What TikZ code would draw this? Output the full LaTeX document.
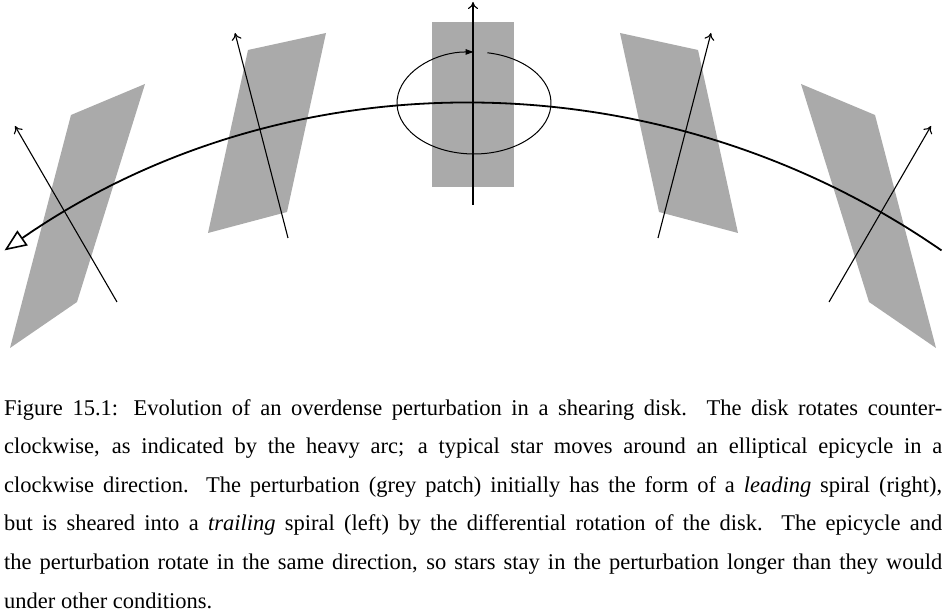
\documentclass[tikz,border=0pt]{standalone}
\usepackage{fontspec}
\setmainfont{Liberation Serif}
\usetikzlibrary{arrows.meta}
\definecolor{patchgrey}{RGB}{170,170,170}
\begin{document}
\begin{tikzpicture}[x=1pt,y=1pt,
    patch/.style={fill=patchgrey},
    axis/.style={line width=1.1pt,-{To[length=7pt,width=10pt]}},
    disk/.style={line width=1.8pt,-{Triangle[open,length=22pt,width=18pt,line width=1.6pt]}},
    epicycle/.style={line width=1pt,-{Latex[length=9pt,width=6pt]}}]
  \useasboundingbox (0,0) rectangle (946,612);
  % grey patches, trailing on the left, leading on the right
  \fill[patch] (10,264) -- (71,497) -- (145,528) -- (77,310) -- cycle;
  \fill[patch] (208,379) -- (248,562) -- (326,579) -- (287,400) -- cycle;
  \fill[patch] (432,425) rectangle (514,590);
  \fill[patch] (659,400) -- (620,579) -- (698,562) -- (738,379) -- cycle;
  \fill[patch] (869,310) -- (801,528) -- (875,497) -- (936,264) -- cycle;
  % epicycle axes through each patch
  \draw[axis] (117,310) -- (15,486);
  \draw[axis] (288,374) -- (235,579);
  \draw[axis] (473,407) -- (473,610);
  \draw[axis] (658,374) -- (711,579);
  \draw[axis] (829,310) -- (931,486);
  % heavy arc: rotation of the disk
  \draw[disk] ([shift={(55.3:823)}]473,-315) arc(55.3:124.7:823);
  % epicycle of a typical star
  \draw[epicycle] ([shift={(80:77 and 51)}]474,509)
    arc[start angle=80,end angle=-270.5,x radius=77,y radius=51];
  \node[anchor=north west,inner sep=0pt,text width=938pt,align=justify,
    font=\fontsize{22.5}{38.6}\selectfont] (caption) at (4,213)
    {Figure 15.1: Evolution of an overdense perturbation in a shearing disk.  The disk rotates counter-\linebreak
     clockwise, as indicated by the heavy arc; a typical star moves around an elliptical epicycle in a\linebreak
     clockwise direction. The perturbation (grey patch) initially has the form of a \emph{leading} spiral (right),\linebreak
     but is sheared into a \emph{trailing} spiral (left) by the differential rotation of the disk.  The epicycle and\linebreak
     the perturbation rotate in the same direction, so stars stay in the perturbation longer than they would\linebreak
     under other conditions.};
\end{tikzpicture}
\end{document}
